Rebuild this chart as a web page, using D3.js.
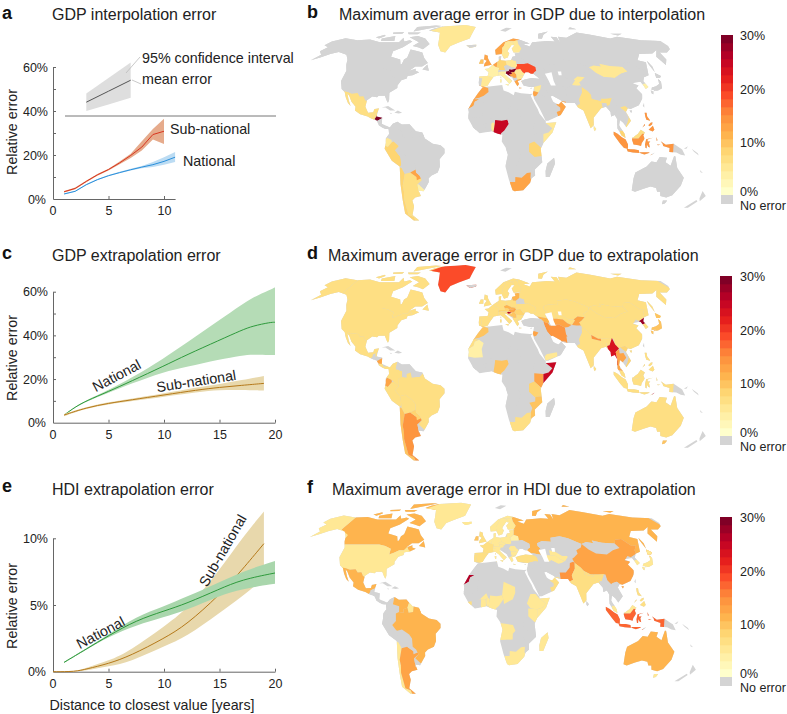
<!DOCTYPE html>
<html>
<head>
<meta charset="utf-8">
<script src="https://cdn.jsdelivr.net/npm/d3@7"></script>
<style>
  body { margin: 0; background: #fff; }
  text { font-family: "Liberation Sans", Arial, sans-serif; fill: #222; }
  .axis path, .axis line { stroke: #666; }
  .axis text { font-size: 12.5px; fill: #222; }
</style>
</head>
<body>
<div id="chart"></div>
<script>
const width = 787;
const height = 714;

// -------------------- line chart data (percent) --------------------
const aInsetX = [3, 5, 7];
const aInsetMean = [44, 49, 54];
const aInsetLow = [40, 43, 46];
const aInsetHigh = [48, 55, 62];

const aSubX = [1, 2, 3, 4, 5, 6, 7, 8, 9, 10];
const aSubMean = [3.3, 4.8, 8, 11, 13.4, 16.4, 19.8, 23.6, 29.3, 30.8];
const aSubLow = [3, 4.4, 7.6, 10.6, 13, 15.8, 18.6, 22, 27, 25];
const aSubHigh = [3.6, 5.2, 8.4, 11.4, 13.8, 17, 20.6, 26.2, 31.8, 36.5];

const aNatX = [1, 2, 3, 4, 5, 6, 7, 8, 9, 10, 11];
const aNatMean = [2.3, 3.5, 6.5, 8.8, 10.6, 12, 13.3, 14.5, 15.6, 17.1, 19];
const aNatLow = [2.1, 3.3, 6.2, 8.5, 10.3, 11.7, 12.9, 14, 14.5, 15.6, 16.8];
const aNatHigh = [2.5, 3.7, 6.8, 9.1, 10.9, 12.4, 13.7, 15, 16.8, 19, 21.4];

const cNatX = [1, 2, 3, 5, 7, 10, 12, 15, 17, 18, 19.6, 20];
const cNatMean = [3.5, 7.2, 10, 14.3, 18.9, 26, 31, 37.8, 42.4, 44.3, 46, 46];
const cNatLow = [3.4, 7, 9.7, 13.7, 17.8, 23.4, 25.5, 29, 30.8, 31.3, 31, 31];
const cNatHigh = [3.6, 7.4, 10.3, 15, 20.2, 29.5, 36.5, 47, 54, 57.4, 61, 62];

const cSubX = [1, 3, 5, 7, 10, 13, 15, 17, 19];
const cSubMean = [3.5, 6.9, 8.9, 10.4, 12.7, 15, 16.2, 17.1, 18];
const cSubLow = [3, 6.5, 8.4, 9.8, 11.9, 14, 15, 15, 14.7];
const cSubHigh = [4, 7.3, 9.4, 11, 13.4, 16.2, 17.7, 19.5, 21.4];

const eNatX = [1, 3, 5, 7.5, 10, 12, 15, 17, 20];
const eNatMean = [0.7, 1.7, 2.7, 3.85, 4.55, 5.1, 6.2, 6.9, 7.4];
const eNatLow = [0.65, 1.65, 2.62, 3.5, 4.1, 4.6, 5.7, 6.2, 6.6];
const eNatHigh = [0.75, 1.75, 2.8, 4.15, 4.9, 5.6, 6.7, 7.5, 8.3];

const eSubX = [0, 2, 3, 5, 7, 10, 12, 15, 17, 19];
const eSubMean = [0, 0, 0.2, 0.6, 1.2, 2.5, 3.5, 5.75, 7.6, 9.6];
const eSubLow = [0, 0, 0.1, 0.4, 0.75, 1.9, 2.6, 4.4, 5.6, 7];
const eSubHigh = [0, 0, 0.3, 0.8, 1.6, 3.4, 4.6, 7.6, 10, 12];

// -------------------- map values: percent, null = no error --------------------
const gdpInterp = {
  Greenland: 5, Mexico: 7, Guatemala: 7, Belize: 7, Honduras: 30, Ecuador: 5, Peru: 8, Chile: 8, Argentina: 7,
  Paraguay: 13, Uruguay: 3, Norway: 13, Sweden: 5, Finland: 5, UK: 13, Ireland: 9, Spain: 5, France: 4, Benelux: 12,
  Germany: 8, Poland: 5, Ukraine: 19, Hungary: 30, Croatia: 30, Dalmatia: 30, Serbia: 12, Romania: 5, Bulgaria: 5, Greece: 12,
  Italy: 4, Morocco: 13, WSahara: 13, Jordan: 13, Syria: 5, Oman: 12, Mongolia: 5, Kyrgyzstan: 5, SKorea: 4,
  India: 7, SriLanka: 5, Vietnam: 7, Philippines: 14, Indonesia: 14, Malaysia: 8, MalaysiaBorneo: 7, Nigeria: 24,
  Benin: 5, Somalia: 5, Tanzania: 8, SouthAfrica: 12
};
const gdpExtrap = {
  Greenland: 19, Canada: 7, Alaska: 7, USA: 7, Mexico: 7, Belize: 7, Nicaragua: 12, CostaRica: 7, Colombia: 7,
  Ecuador: 13, Peru: 7, Bolivia: 7, Chile: 9, Argentina: 14, Paraguay: 8, Brazil: 7, Norway: 7, Sweden: 7, Finland: 7,
  Denmark: 7, UK: 7, Ireland: 7, Portugal: 7, Spain: 7, France: 7, Benelux: 7, Germany: 7, Austria: 8, Italy: 7,
  Poland: 7, Czechia: 11, Slovakia: 11, Hungary: 12, Croatia: 26, Dalmatia: 7, Serbia: 9, Macedonia: 7, Greece: 7, Bulgaria: 7,
  Romania: 8, Ukraine: 7, Baltics: 11, Russia: 7, Kazakhstan: 7, Uzbekistan: 7, Turkmenistan: 12, Kyrgyzstan: 12,
  Caucasus: 11, Iran: 14, Jordan: 13, Yemen: 5, Mongolia: 7, China: 7, India: 7, Nepal: 14, Bangladesh: 7, SriLanka: 7,
  Myanmar: 23, Thailand: 13, Vietnam: 8, Malaysia: 7, MalaysiaBorneo: 7, Indonesia: 7, Timor: 25, Philippines: 7,
  Japan: 9, NKorea: 27, SKorea: 7, Australia: 7, Tasmania: 9, Morocco: 9, WSahara: 7, Mauritania: 4, Nigeria: 10,
  Somalia: 25, Kenya: 12, Tanzania: 8, Mozambique: 9, SouthAfrica: 7
};
const hdiExtrap = {
  Greenland: 5, Alaska: 5, Canada: 11, USA: 5, Mexico: 11, Venezuela: 11, Guyana: 5, Suriname: 11, Brazil: 11,
  Chile: 5, Argentina: 12, Norway: 5, Sweden: 5, Finland: 5, Denmark: 5, UK: 7, Ireland: 9, Iceland: 5, Portugal: 7,
  Spain: 7, France: 7, Benelux: 5, Germany: 5, Austria: 5, Italy: 5, Poland: 5, Czechia: 5, Belarus: 4, Greece: 5,
  Bulgaria: 5, Romania: 5, Russia: 11, Baltics: 5, Turkey: 7, Uzbekistan: 5, Turkmenistan: 5, Oman: 7, Pakistan: 14,
  China: 13, India: 7, Nepal: 7, Bangladesh: 7, Malaysia: 5, Indonesia: 17, MalaysiaBorneo: 5, Philippines: 7,
  Japan: 5, SKorea: 5, Australia: 11, Tasmania: 5, Madagascar: 5, WSahara: 26, SierraLeone: 7, Burkina: 5, Ghana: 5,
  Nigeria: 5, Chad: 5, Ethiopia: 5, Kenya: 5, Angola: 5, SouthAfrica: 5, Benin: 5, Somalia: 5
};

// colour bar labels
const barTicks = [0, 10, 20, 30];

// -------------------- geography: lon,lat outlines --------------------
const land = [
  // North and Central America
  [[-168,65.5],[-166,68.5],[-156.5,71.2],[-141,69.6],[-128,70],[-115,68],[-108,68],[-95,68],[-94,71.5],[-90,68.5],[-85,69.5],[-81.5,68.5],[-87,64],[-94,61],[-92.5,57],[-82.5,55],[-80,51.5],[-79,52],[-79,55],[-77,56.5],[-78,62.3],[-70,61],[-65,60],[-61,56],[-56,52.5],[-60,50],[-66,50],[-70,47],[-65,48.5],[-64.5,47],[-61,46],[-66,44],[-70,43.5],[-70,41.7],[-74,40.5],[-76,37],[-75.5,35.2],[-81,32],[-80,27],[-80.5,25.2],[-82,27],[-84,30],[-89,30],[-90,29],[-94,29.5],[-97.5,27],[-97.8,22.5],[-95,18.5],[-91,18.8],[-90.5,21],[-87,21.5],[-88,16],[-83.5,15],[-83.5,11],[-79.5,9.5],[-77.2,8.5],[-78,7.5],[-80.5,7.5],[-83,8.5],[-85.7,10],[-87.5,13],[-92,14.5],[-95,16],[-101,17.5],[-105.5,20],[-105.5,22.5],[-109.5,26],[-112.5,30],[-114.7,31.7],[-112,27],[-109.5,23],[-112,25],[-115,29],[-117.2,32.5],[-120.5,34.5],[-124,40],[-124.5,47],[-128,51],[-131,55],[-136,58.5],[-146,60.5],[-152,59],[-158,56.5],[-164,54.5],[-160,58.5],[-165,61],[-162,64]],
  // Arctic Canada
  [[-80,73],[-70,71],[-62,66.5],[-66,62.5],[-72,64],[-78,65],[-74,68],[-88,72]],
  [[-117,71],[-105,73],[-101,69],[-115,69]],
  [[-90,77],[-62,82.5],[-70,83],[-92,81.5]],
  [[-125,72],[-118,74],[-116,73],[-120,71]],
  [[-95,76],[-80,76],[-82,74.5],[-92,74.5]],
  [[-112,76],[-100,76.5],[-100,75],[-110,74.8]],
  [[-59,48],[-53,47],[-56,51.5]],
  // Caribbean
  [[-85,22],[-80,23],[-74,20],[-78,20],[-82,22]],
  [[-74.5,18.5],[-72,20],[-68.5,18.5],[-71,18]],
  [[-78.3,18.4],[-76.3,18.2],[-77,17.7]],
  // Greenland
  [[-73,78],[-68,80],[-60,82],[-32,83.6],[-18,81.5],[-20,76],[-22,71],[-32,68],[-40,65],[-43,60],[-48,61],[-53,66],[-55,71],[-58,76]],
  // South America
  [[-77.2,8.5],[-75,11],[-71.5,12.4],[-68,10.5],[-62,10.7],[-57,6],[-52,5],[-50,1],[-44,-2.5],[-38,-3.5],[-35,-6],[-35,-9],[-39,-13],[-39,-18],[-41,-22],[-46,-24],[-48.5,-26],[-48.7,-28.5],[-52,-32.5],[-54,-34.8],[-58,-34.3],[-57,-38],[-62,-39],[-65,-41],[-65,-45],[-69,-51],[-65,-55],[-70,-55],[-75,-50],[-73,-41],[-71.5,-30],[-70.3,-18],[-76,-14],[-81,-6],[-80,-2],[-80,1],[-77.5,4],[-78,7.5]],
  // Africa
  [[-6,35.8],[10,37.3],[11,33.5],[15,32.3],[19,30.3],[20,32.7],[25,31.7],[32,31.2],[34.3,31.3],[32.5,30],[35.5,24],[37.3,21],[38.5,18],[43.2,12.5],[43,11.5],[51.2,12],[48,5],[41,-2],[39,-6],[40.5,-15],[35,-20],[35.5,-24],[32.8,-26],[32,-29],[27,-34],[20,-34.8],[18.3,-34],[15,-27],[12,-18],[13.8,-10],[12,-5],[9,-1],[9.5,3.5],[6,4.3],[1,6],[-4.5,5],[-8,4.5],[-13,8.5],[-17,14.7],[-16.5,19],[-17,21],[-13,27.5],[-9.8,31.5]],
  [[49.5,-12],[50.5,-16],[47,-25],[44,-25],[43.5,-21],[44.5,-16]],
  // Eurasia
  [[-9,37],[-9.3,39],[-9,43],[-2,43.4],[-1.2,46],[-4.7,48.3],[-1.5,48.7],[1.5,50.5],[4,52],[8,54],[8.2,57],[10.5,57.5],[10,54.5],[14,54],[19,54.5],[21,57],[24,57.5],[23.5,59.3],[30,60],[22.5,60],[21.5,63],[25,65.5],[22,65.8],[17,61],[18.5,59.5],[16.5,56.5],[13,55.5],[11,59],[5.5,58.5],[5,62],[14,68],[25,71],[31,70],[41,67],[34,66.3],[40,64.5],[44,68],[54,68.5],[60,69],[68,68.5],[67,72.5],[73,72],[73,68],[75,72.5],[83,71.5],[100,76],[113,74],[130,71],[140,72.5],[160,69.5],[180,69],[180,65],[177,62.5],[170,60],[163,60],[162,55],[156.7,51],[155.5,57],[163,62],[155,59.3],[142,59],[135,54.5],[141,53],[135,44],[130,42.5],[127.5,39.8],[129.5,36],[126.5,34.5],[126,37],[125,39.5],[121,39],[118,38.5],[122,37],[119,35],[122,31],[121,28],[117,23.5],[110,21],[108,21.5],[106,19],[109,13],[105,8.6],[102.5,12],[100.5,13.5],[99.5,10],[103.5,4],[104,1.4],[101,3],[98,8],[98.5,14],[97,17],[94,16],[94,19],[91,22.5],[87,21.5],[80.3,15],[80,10],[77.5,8],[73,20],[69,22],[67,25],[61,25],[57,26],[56,27],[50,30],[48.5,29.5],[50,26],[51.5,25],[54,24],[56.3,26],[59.5,22.5],[55,17],[45,13],[43,13],[39,21],[35,28],[34.5,31.5],[36,36],[32,36],[27.5,37],[26,40],[29,41],[35,42],[41.5,41.5],[37,45],[35,45],[33,46],[30.5,46],[28,43],[26,40.8],[23,40],[24,38],[22.5,36.5],[19.5,41],[19,42],[14,45],[12.3,45],[18.5,40],[16,38],[12,42],[9,44],[3.2,43],[0,39.5],[-2,36.8],[-5.5,36]],
  // European islands
  [[-5.5,50],[1.5,51.2],[0,53],[-2,56],[-2,57.7],[-5,58.6],[-5.5,55],[-3,54],[-5,52]],
  [[-10,52],[-6,52],[-6,55],[-8.5,55]],
  [[-24,65.5],[-14,66],[-14,64.5],[-20,63.5]],
  [[12.5,38],[15.5,38],[15,36.7]],
  [[8.3,41],[9.7,41],[9.5,39],[8.5,39]],
  [[8.7,42.9],[9.5,42.9],[9.3,41.5]],
  [[32.5,35],[34.5,35.6],[33.5,34.6]],
  [[23.5,35.5],[26.2,35.2],[24,34.9]],
  // Arctic Russia
  [[52,71],[55,75],[68,77],[60,74],[56,70.8]],
  [[12,78],[20,80.5],[27,80],[18,76.7]],
  [[95,79],[105,79],[100,81]],
  [[137,75],[150,75],[143,73.5]],
  // East Asia
  [[142,46],[143.5,50],[143,54],[142,52]],
  [[130.9,34],[136,33.5],[140,35],[142,39.5],[141,41.3],[139.5,38],[136,36.5],[132,35.5]],
  [[140,42],[141.5,45.5],[145,43.5],[143,42]],
  [[130,33.5],[132,33],[131,31],[130,31.5]],
  [[132.5,34],[134.5,34],[133,33]],
  [[120,23],[121.5,25.2],[121,22]],
  [[109,20],[111,20],[110,18.3]],
  [[80,9.7],[81.8,7.5],[80.5,6],[79.8,7.5]],
  // Southeast Asia
  [[120.5,16],[120.5,18.5],[122,18.5],[122,16],[124,13],[121,13.7]],
  [[122,7],[125.5,9.7],[126.5,7],[125,5.7]],
  [[122,10],[124,11.7],[125.5,12],[125,10.5],[123,9.3]],
  [[117.3,8.4],[119.5,11],[119.5,10]],
  [[95,5.8],[98,4.2],[101,2],[104,0.5],[106,-3],[106,-6],[103,-5.5],[100,-2.5],[97,1],[95,3.5]],
  [[105,-6],[108,-6.2],[111,-6.2],[114.5,-7],[115,-8.8],[110,-8.5],[106,-7.8]],
  [[109,1.5],[110,1.7],[111.5,2.8],[113.5,4],[116,7],[119,5],[117.7,3],[118.8,1],[116.5,-2],[116,-4],[114,-3.5],[110.2,-3],[109,0]],
  [[119.8,0.5],[125,1.5],[120.8,0.3],[121,-1],[123,-1],[122,-2],[122.8,-5],[121.5,-4.5],[120.5,-3],[120.4,-5.6],[119.5,-5.5],[119,-3]],
  [[115,-8.3],[119,-8.3],[122,-8.3],[123,-8.6],[119,-9.8],[116,-9]],
  [[123.5,-10.3],[127,-8.4],[125,-10]],
  [[127.5,2],[128.5,0],[128,-0.8]],
  [[128,-3],[131,-3.2],[129,-3.5]],
  [[131,-0.8],[135,-3.3],[141,-2.6],[146,-5.5],[147.8,-6.5],[150.5,-10.5],[147,-10],[143.5,-8.5],[138,-8.2],[138,-5.5],[133,-4],[132.5,-2.5]],
  [[149,-6],[152,-4.3],[151,-6]],
  [[155,-6],[160,-9],[161,-10.5],[157,-8]],
  // Oceania
  [[114,-22],[113.5,-26],[115,-34.2],[118,-35],[124,-33],[129,-31.5],[134,-32.5],[136,-35],[138.5,-35],[140.5,-38],[146,-39],[150,-37.5],[153,-31],[153,-25.5],[146,-19],[143,-11],[142,-11],[140.5,-17.5],[136,-15],[136.7,-12],[131,-11.5],[129,-15],[125,-14.5],[122,-18]],
  [[144.7,-41],[148.3,-41],[148,-43],[146,-43.6]],
  [[172.7,-34.5],[178,-38],[176,-41.5],[174,-39.5]],
  [[172.5,-40.7],[174.3,-41.7],[170.5,-46],[167,-46]],
  [[164,-20.3],[167,-22.3],[165,-21.8]]
];

// inland seas painted back over the land
const waters = [
  [[47,45],[53,46],[53,40],[54,37],[50,37],[49,40]],
  [[58.5,46.5],[61.5,46.5],[61,44],[58.5,44]]
];

// only countries coloured on some map need an outline; the coast comes from the land clip
const countries = [
  ["Canada", [[[-141,72],[-141,60],[-130,55.5],[-130,49],[-95,49],[-89,48],[-83,46],[-82.5,42],[-79,43.2],[-75,45],[-71,45],[-69,47.3],[-67,45],[-60,40],[-50,45],[-50,60],[-60,62],[-60,70],[-60,83.5],[-90,84],[-130,78]]]],
  ["USA", [[[-130,49],[-95,49],[-89,48],[-83,46],[-82.5,42],[-79,43.2],[-75,45],[-71,45],[-69,47.3],[-67,45],[-60,43],[-70,30],[-79,25],[-80.5,24.8],[-82,24.8],[-88,28],[-96,25.9],[-99,27],[-101,29.7],[-104,29.5],[-106.5,31.8],[-111,31.3],[-114.8,32.5],[-117.1,32.5],[-125,30]]]],
  ["Alaska", [[[-172,72],[-141,72],[-141,60],[-130,56],[-130,54],[-150,50],[-175,50]]]],
  ["Greenland", [[[-72,77],[-62,81],[-58,82.5],[-10,85],[-10,58],[-60,58],[-62,70]]]],
  ["Mexico", [[[-118,33],[-114.8,32.5],[-111,31.3],[-106.5,31.8],[-104,29.5],[-101,29.7],[-99,27],[-96,25.9],[-94,20],[-86,22],[-88.2,18],[-89.1,17.9],[-91,17.2],[-91,16],[-92.2,14.5],[-95,12],[-110,18]]]],
  ["Guatemala", [[[-92.2,14.5],[-91,16],[-91,17.2],[-89.1,17.9],[-88.9,15.9],[-88.2,15.7],[-89.3,14.3],[-90,13],[-92.3,13]]]],
  ["Belize", [[[-89.1,17.9],[-88.2,18.5],[-87.5,16],[-88.9,15.9]]]],
  ["Honduras", [[[-89.3,14.3],[-88.2,15.7],[-88,16.5],[-83,16],[-83,15],[-85,14],[-87,13],[-88,13.2]]]],
  ["Nicaragua", [[[-87,13],[-85,14],[-83,15],[-83,10.9],[-85.7,11],[-87.7,12.5]]]],
  ["CostaRica", [[[-86,11],[-83,10.9],[-82,9],[-77,9.5],[-77,7],[-86,7.5]]]],
  ["Colombia", [[[-79,9],[-77.2,8.5],[-75,12],[-71.5,12.8],[-72,10],[-72.5,7.5],[-67.5,6],[-67.5,2],[-70,1],[-70,-4.2],[-74,-1],[-75.5,0],[-79,1.5],[-82,2]]]],
  ["Venezuela", [[[-72,10],[-71.5,12.8],[-62,11.5],[-59.8,8.5],[-61,5],[-64,4],[-64,1.5],[-67.5,2],[-67.5,6],[-72.5,7.5]]]],
  ["Guyana", [[[-59.8,8.5],[-56,7],[-56.5,2],[-60,1.5],[-61,5]]]],
  ["Suriname", [[[-56,7],[-50,6.5],[-50,2],[-56.5,2]]]],
  ["Ecuador", [[[-79,1.5],[-75.5,0],[-75.3,-1.5],[-78.5,-4.8],[-80.3,-4],[-82,-2]]]],
  ["Peru", [[[-82,-2],[-80.3,-4],[-78.5,-4.8],[-75.3,-1.5],[-74,-1],[-70,-4.2],[-73,-7],[-70.5,-10],[-69.5,-11],[-69,-13],[-69,-17],[-70.4,-18.4],[-75,-18],[-84,-6]]]],
  ["Bolivia", [[[-69.5,-11],[-65.5,-10],[-60,-13.5],[-58,-16.3],[-58,-20],[-62.5,-22],[-67,-23],[-69,-19],[-69,-17],[-69,-13]]]],
  ["Chile", [[[-70.4,-18.4],[-69,-19],[-67,-23],[-70,-31],[-70,-35],[-71.5,-40],[-72,-47],[-72.5,-51],[-68.5,-52.5],[-68.5,-55],[-65,-56.5],[-80,-56],[-75,-18]]]],
  ["Argentina", [[[-67,-23],[-62.5,-22],[-58,-25],[-54.5,-26],[-54,-27.2],[-58,-30],[-58,-34],[-50,-40],[-60,-56],[-68.5,-56],[-68.5,-52.5],[-72.5,-51],[-72,-47],[-71.5,-40],[-70,-35],[-70,-31]]]],
  ["Paraguay", [[[-62.5,-22],[-58,-20],[-58,-22],[-55.5,-24],[-54.5,-26],[-58,-27.2],[-58,-25]]]],
  ["Uruguay", [[[-58,-30],[-57,-30],[-53.3,-33.5],[-50,-36],[-58,-36],[-58,-34]]]],
  ["Brazil", [[[-70,-4.2],[-70,1],[-67.5,2],[-64,1.5],[-64,4],[-61,5],[-60,1.5],[-56.5,2],[-54,2],[-51.5,4.5],[-45,3],[-30,-5],[-30,-15],[-50,-36],[-53.3,-33.5],[-57,-30],[-54,-27.2],[-54.5,-26],[-55.5,-24],[-58,-22],[-58,-16.3],[-60,-13.5],[-65.5,-10],[-69.5,-11],[-70.5,-10],[-73,-7]]]],
  ["Iceland", [[[-26,62],[-12,62],[-12,67.5],[-26,67.5]]]],
  ["Russia", [[[28,59.5],[27,56],[31,55],[31,52],[34,52.3],[40,49.6],[40,47],[38,46],[36,44.5],[40,43],[48,41.8],[47,45],[49,46.3],[47,48],[47,50],[52,51.5],[60,51],[61,54],[70,55],[77,53.5],[83,51],[87,49.5],[92,50.8],[98,50],[98,52],[106,50.3],[113,50],[117,49.7],[120,52.5],[126,53],[131,48],[135,48.3],[131,45],[130.5,42.5],[135,40],[150,40],[180,60],[180,80],[60,84],[35,82],[28,72],[31,70],[29,69.5],[29,66.5],[31,63],[28,60]]]],
  ["Norway", [[[4,58],[7,57.5],[11,58.5],[12,61],[12,63.5],[14,65],[16,68],[20,69],[25,68.8],[29,69.5],[31,70],[32,72],[15,72],[2,62]]]],
  ["Sweden", [[[11,58.5],[12.5,55],[16,55],[20,58],[18,60.5],[18,62.5],[24,65.5],[24,67.5],[20,69],[16,68],[14,65],[12,63.5],[12,61]]]],
  ["Finland", [[[21,60],[25,59.5],[28,60],[31,63],[29,66.5],[29,69.5],[25,68.8],[20.5,69],[24,67.5],[24,65.5],[20,63]]]],
  ["Denmark", [[[8,54.9],[12,54.7],[13,56],[11,58],[7,58]]]],
  ["UK", [[[-6,49.5],[2,50.5],[2,54],[-1,59],[-7,59],[-6,54],[-6,52]]]],
  ["Ireland", [[[-11,51],[-6,51.5],[-5.9,55.5],[-9,56]]]],
  ["Portugal", [[[-10,36.5],[-7.4,37],[-7,39.5],[-6.5,41.8],[-9,42.1],[-10,42]]]],
  ["Spain", [[[-7.4,36],[-5,35.9],[-1,36.3],[0,38],[4,40],[3.3,42.4],[-1.8,43.4],[-2,44],[-10,44],[-9,42.1],[-6.5,41.8],[-7,39.5],[-7.4,37]]]],
  ["France", [[[-1.8,43.4],[3.3,42.4],[7.5,43.5],[7,46],[8,49],[4.5,50],[2.5,51.3],[0,50.5],[-6,48.5],[-3,46]]]],
  ["Benelux", [[[2.5,51.3],[4.5,50],[6,49.5],[6.2,51],[7,53.5],[4,53.5]]]],
  ["Germany", [[[6,49.5],[8,49],[7.6,47.6],[13,47.5],[13,48.8],[12.3,50.2],[15,51],[14.3,53.9],[14.2,55],[8,55],[7,53.5],[6.2,51]]]],
  ["Austria", [[[7,46],[10,46.5],[13,46.6],[16.3,46.9],[17,48.1],[15,49],[13,48.8],[13,47.5],[7.6,47.6]]]],
  ["Italy", [[[7,46],[7.5,43.5],[6,43],[8,38],[14,35],[19,39],[18.8,40],[15,43],[13.5,45],[13.7,46.5],[13,46.6],[10,46.5]]]],
  ["Poland", [[[14.3,53.9],[15,51],[19,49.5],[22.8,49],[24,50.5],[23.5,54],[19,55],[14.2,55]]]],
  ["Czechia", [[[12.3,50.2],[13,48.8],[15,49],[17,48.1],[19,49.5],[15,51]]]],
  ["Slovakia", [[[17,48.1],[18.7,47.8],[22.2,48.4],[22.8,49],[19,49.5]]]],
  ["Hungary", [[[16.3,46.9],[18,45.8],[21,46.2],[22.8,48],[22.2,48.4],[18.7,47.8],[17,48.1]]]],
  ["Serbia", [[[18,45.8],[21,46.2],[22.5,44.2],[22.5,42.3],[20,42],[19,43],[18,43],[16,44.5],[19,45]]]],
  ["Dalmatia", [[[13.6,45],[14,46.5],[16.3,46.9],[18,45.8],[19,45],[16,44.5],[18,43],[15,43.5]]]],
  ["Croatia", [[[14.5,45.6],[16,46.3],[18.5,45.6],[16,44.9]]]],
  ["Macedonia", [[[18,42.3],[20,42],[22.5,42.3],[23,41],[20,39.5],[18,40]]]],
  ["Greece", [[[20,39.5],[23,41],[26.3,41.5],[26.3,40.6],[26,37],[27,34],[23,34.5],[19,36],[19,39]]]],
  ["Bulgaria", [[[22.5,42.3],[22.5,44.2],[28,43.8],[29,43],[28,42],[26.3,41.5],[23,41]]]],
  ["Romania", [[[21,46.2],[22.8,48],[26.5,48.2],[28.2,46],[29.8,45.2],[29,43.8],[22.5,44.2]]]],
  ["Ukraine", [[[22.2,48.4],[24,50.5],[24,51.7],[31,52],[34,52.3],[40,49.6],[40,47],[38,46],[36,44],[32,45],[30,45.5],[29.8,45.2],[28.2,46],[26.5,48.2],[22.8,48]]]],
  ["Belarus", [[[24,51.7],[23.5,54],[27,56],[31,55],[31,52]]]],
  ["Baltics", [[[21,54.2],[23.5,54],[27,56],[28,59.5],[23,60],[20,57]]]],
  ["Kazakhstan", [[[47,45],[49,46.3],[47,48],[47,50],[52,51.5],[60,51],[61,54],[70,55],[77,53.5],[83,51],[87,49.5],[85,47],[80,45],[80,42.5],[74,43],[70,41],[66,41],[61,44],[56,45],[56,41.5],[52,41.5],[50,44]]]],
  ["Uzbekistan", [[[56,45],[61,44],[66,41],[70,41],[71,40.5],[67.5,37.3],[64,38.5],[61,41],[56,41.5]]]],
  ["Turkmenistan", [[[52,41.5],[56,41.5],[61,41],[64,38.5],[67,37.3],[64,36],[61,35.5],[56,38],[53.5,37],[52,38]]]],
  ["Kyrgyzstan", [[[70,41],[74,43],[80,42.5],[76,40],[74,39],[75,37],[71,37],[67.5,37.3],[71,40.5]]]],
  ["Caucasus", [[[40,43],[48,41.8],[50,40],[48,38.5],[44.5,39.5],[43,41],[41.5,41.5]]]],
  ["Turkey", [[[26.3,40.6],[26,37],[36,36],[42,37.2],[44.8,37],[44.5,39.5],[43,41],[41.5,41.5],[35,42.5],[29,41.8],[28,42],[26.3,41.5]]]],
  ["Iran", [[[44.5,39.5],[48,38.5],[49,37],[54,36.8],[56,38],[61,35.5],[61,31],[63,27],[61.6,25],[56,26],[50,29.5],[48.5,30],[46,33],[44.8,37]]]],
  ["Iraq", [[[42,37.2],[44.8,37],[46,33],[48.5,30],[47,29],[44,29],[39,32.2],[41,34.5]]]],
  ["Syria", [[[36,36],[42,37.2],[41,34.5],[39,32.2],[36,33]]]],
  ["Jordan", [[[34,31],[35,33.2],[36,33],[39,32.2],[37,30],[35,29.4]]]],
  ["Yemen", [[[43,13],[52,16],[53,19],[44,17.5],[42.5,16]]]],
  ["Oman", [[[52,24],[55,22],[55,20],[52,19],[53,16],[60,16],[60,26],[56,26.5],[54,24.5]]]],
  ["Pakistan", [[[61,25],[61,29.5],[66,29.5],[70,33],[71,36],[74,37],[75,36],[74,32],[70.5,27.5],[71,24.5],[68,23],[62,24]]]],
  ["Mongolia", [[[87,49.5],[92,50.8],[98,50],[98,52],[106,50.3],[113,50],[117,49.7],[119,46.5],[112,45],[105,42],[96,42.7],[91,45.5]]]],
  ["China", [[[74,39],[76,40],[80,42.5],[80,45],[85,47],[87,49.5],[91,45.5],[96,42.7],[105,42],[112,45],[119,46.5],[117,49.7],[120,52.5],[126,53],[131,48],[135,48.3],[131,45],[130.5,42.5],[128,41.5],[124.3,40],[122,41],[118,38],[123,37],[122,30],[118,23],[112,20],[111,17.5],[108.5,17.5],[108,21.5],[106,23],[102,22],[101,21.3],[98.5,24],[98,28],[92,28],[86,28],[81,30.5],[79,33],[75,36]]]],
  ["India", [[[68,23],[71,24.5],[70.5,27.5],[74,32],[75,36],[79,33],[81,30.5],[81,28],[88,26.5],[88,28],[92,28],[97,28.5],[94,23.5],[92,23],[91.5,25],[88,25],[89,21],[80.2,10],[78,7],[76,7],[68,20]]]],
  ["Nepal", [[[81,30.5],[86,28],[88,28],[88,26.5],[81,28]]]],
  ["Bangladesh", [[[88,25],[91.5,25],[92,23],[92.5,20],[88.5,20.5]]]],
  ["SriLanka", [[[79,10],[82.5,8],[81,5],[79,7]]]],
  ["Myanmar", [[[92,23],[94,23.5],[97,28.5],[98.5,24],[101,21.3],[98,19],[98.5,14],[99.5,10],[96,10],[92.5,20]]]],
  ["Thailand", [[[98,19],[101,21],[101,18],[104,18.3],[105.6,15],[102.5,12],[102.3,11],[100.5,12],[100,8],[103,6],[100,6.5],[98,7],[98.5,14]]]],
  ["Vietnam", [[[102,22],[106,23],[108,21.5],[106.5,19],[110,15],[109.5,11],[106,8],[104,8.5],[106,11.5],[107.5,15],[106,19]]]],
  ["Malaysia", [[[100,6.5],[103,6],[105,2],[104,0.8],[100,3]]]],
  ["MalaysiaBorneo", [[[109,1],[114,1],[117,4.3],[120,4],[120,8],[112,8],[109,3]]]],
  ["Indonesia", [
    [[94,6],[98,5],[102,1.6],[104.5,0.3],[107,-2],[107,-6],[104,-7],[98,-2],[94,3]],
    [[105,-6],[115,-6.5],[120,-7.5],[128,-7.5],[125,-9],[124,-11.5],[116,-10],[105,-9.5]],
    [[108,-5],[108,1],[109,1],[114,1],[117,4.3],[118.5,4],[118.5,-5]],
    [[118.5,-6],[118.5,-2],[120,2],[126,2],[124,-7]],
    [[127,3],[129.5,1],[132,-3.5],[128,-4.5],[126,0]],
    [[130.5,0],[141,-2],[141,-9.5],[137,-9],[132,-4.5]]
  ]],
  ["Timor", [[[124.5,-9.2],[127.5,-8],[125.5,-10]]]],
  ["Philippines", [[[116.5,8],[120,4.5],[127,5],[127,10],[123.5,19.5],[119.5,19]]]],
  ["Japan", [[[129,30],[133,30],[143,36],[146,42],[146,46],[140,46],[138,38],[130,35]]]],
  ["NKorea", [[[124.3,40],[128,41.5],[130.5,42.5],[132,41],[128.5,38.5],[125.5,37.7],[124,38]]]],
  ["SKorea", [[[125.5,37.7],[128.5,38.5],[131,36],[128,33.5],[125,34]]]],
  ["Australia", [[[112,-20],[125,-12],[130,-10],[137,-11],[142,-9.8],[147,-15],[155,-25],[155,-39],[148,-39.5],[143,-39.5],[115,-37]]]],
  ["Tasmania", [[[143,-39.8],[150,-39.8],[150,-45],[143,-45]]]],
  ["Madagascar", [[[42,-26],[48,-27],[52,-15],[49,-11],[43,-15]]]],
  ["Morocco", [[[-6,36.5],[-1.5,35.2],[-1.2,32.5],[-5,30],[-8.7,28.7],[-12,28],[-12,27],[-20,27],[-15,34],[-10,37]]]],
  ["WSahara", [[[-20,27.7],[-8.7,27.7],[-12,26],[-13,23],[-17,21],[-22,21]]]],
  ["Mauritania", [[[-17,21],[-13,23],[-12,26],[-8.7,27.2],[-5,25],[-6.5,21],[-5.5,15.5],[-12,15],[-17,16],[-20,16],[-20,21]]]],
  ["SierraLeone", [[[-14,9],[-10.5,9.5],[-10.5,7],[-12,6]]]],
  ["Burkina", [[[-5.5,10.5],[-4,11],[1,15],[2.5,12],[0.5,11],[-3,11]]]],
  ["Ghana", [[[-3,11],[0.5,11],[1,6],[-3,4],[-3.3,7]]]],
  ["Benin", [[[1,11],[2.5,12],[3.7,11],[2.8,6],[1.6,6],[1,8]]]],
  ["Nigeria", [[[2.8,6],[3.7,11],[4,13.5],[9,13],[13.5,13.7],[14.5,11],[11,6.5],[8.5,4.5],[8.5,2],[3,2]]]],
  ["Chad", [[[13.5,13.7],[15,23],[24,19.5],[24,15.5],[22,11],[15,7.7],[14.5,11]]]],
  ["Ethiopia", [[[33,8],[36,14.5],[40,14.5],[43,11.5],[48,8],[45,5],[41,4],[36,4.5]]]],
  ["Kenya", [[[34,4.5],[41,4],[41,-2],[42,-4],[39,-5],[34,-1]]]],
  ["Somalia", [[[41,4],[45,5],[48,8],[43,11.5],[52,12.5],[52,8],[45,-3],[41,-2]]]],
  ["Tanzania", [[[34,-1],[39,-5],[42,-5],[42,-10.5],[40,-11],[34.5,-11.5],[30,-8],[30,-2.5]]]],
  ["Mozambique", [[[35,-11.5],[40,-11],[42,-15],[36,-24],[33,-27],[32,-26],[32,-22],[33,-19],[30.5,-15.5],[35,-14.5]]]],
  ["SouthAfrica", [[[16,-28.5],[20,-28.5],[20,-25],[25,-25.5],[29,-22.3],[32,-22],[32,-26],[33,-27],[34,-30],[25,-38],[16,-36]]]],
  ["Angola", [[[11,-6],[13,-5.8],[16,-6],[22,-7],[24,-11],[22,-13],[22,-17],[12,-17.3],[10,-17]]]]
];

// -------------------- Robinson projection --------------------
const robLat = d3.range(0, 95, 5);
const robLen = [1, .9986, .9954, .99, .9822, .973, .96, .9427, .9216, .8962, .8679, .835, .7986, .7597, .7186, .6732, .6213, .5722, .5322];
const robDfe = [0, .062, .124, .186, .248, .31, .372, .434, .4958, .5571, .6176, .6769, .7346, .7903, .8435, .8936, .9394, .9761, 1];
const lenScale = d3.scaleLinear().domain(robLat).range(robLen);
const dfeScale = d3.scaleLinear().domain(robLat).range(robDfe);

function robinsonRaw(lambda, phi) {
  const a = Math.abs(phi) * 180 / Math.PI;
  return [0.8487 * lambda * lenScale(a), 1.3523 * dfeScale(a) * Math.sign(phi)];
}

// -------------------- colours --------------------
const grey = "#d4d4d4";
const ramp = d3.piecewise(d3.interpolateRgb, d3.schemeYlOrRd[9]);
const stepColors = d3.range(20).map(i => ramp(i / 19));
const colorScale = d3.scaleQuantize().domain([0, 30]).range(stepColors);

const svg = d3.select("#chart").append("svg")
  .attr("width", width)
  .attr("height", height)
  .style("display", "block");

const lineNat = "#2e9a3c", bandNat = "#b5dcb6";
const lineSub = "#b5791a", bandSub = "#e8d8ac";

// -------------------- line charts --------------------
function linePanel(o) {
  const x = d3.scaleLinear().domain([0, o.xMax]).range([53, 53 + o.xMax * 11.1]);
  const y = d3.scaleLinear().domain([0, o.yMax]).range([o.y0, o.yTop]);

  svg.append("g")
    .attr("class", "axis")
    .attr("transform", `translate(53,0)`)
    .call(d3.axisLeft(y).tickValues(o.yTicks).tickSize(-3).tickSizeOuter(0).tickPadding(5)
      .tickFormat(d => o.yLabels.includes(d) ? d + "%" : ""));

  svg.append("g")
    .attr("class", "axis")
    .attr("transform", `translate(0,${o.y0})`)
    .call(d3.axisBottom(x).tickValues(o.xTicks).tickSize(-3).tickSizeOuter(0).tickPadding(7));

  svg.append("text")
    .attr("transform", `translate(17,${o.yLabelAt}) rotate(-90)`)
    .attr("text-anchor", "middle")
    .style("font-size", "14.3px")
    .text("Relative error");

  return { x, y };
}

function series(scales, xs, mean, low, high, lineColor, bandColor, curve) {
  const pts = xs.map((d, i) => i);
  const area = d3.area().curve(curve)
    .x(i => scales.x(xs[i]))
    .y0(i => scales.y(low[i]))
    .y1(i => scales.y(high[i]));
  const line = d3.line().curve(curve)
    .x(i => scales.x(xs[i]))
    .y(i => scales.y(mean[i]));
  svg.append("path").attr("d", area(pts)).attr("fill", bandColor);
  svg.append("path").attr("d", line(pts)).attr("fill", "none").attr("stroke", lineColor).attr("stroke-width", 1);
}

function heading(letter, lx, ly, title, tx, ty) {
  svg.append("text").attr("x", lx).attr("y", ly)
    .style("font-size", "18px").style("font-weight", "bold").style("fill", "#111").text(letter);
  svg.append("text").attr("x", tx).attr("y", ty)
    .style("font-size", "16px").text(title);
}

function label(x, y, rot, txt) {
  svg.append("text")
    .attr("transform", `translate(${x},${y}) rotate(${rot})`)
    .attr("text-anchor", "middle")
    .style("font-size", "14.3px")
    .text(txt);
}

// panel a
heading("a", 2, 19, "GDP interpolation error", 52, 20);
const a = linePanel({
  xMax: 11, yMax: 60, y0: 199, yTop: 67, xTicks: [5, 10],
  yTicks: [10, 20, 30, 40, 50, 60], yLabels: [20, 40, 60], yLabelAt: 132
});
series(a, aInsetX, aInsetMean, aInsetLow, aInsetHigh, "#555", "#dedede", d3.curveLinear);
series(a, aSubX, aSubMean, aSubLow, aSubHigh, "#d8351f", "#e6ab8c", d3.curveLinear);
series(a, aNatX, aNatMean, aNatLow, aNatHigh, "#2a8fdb", "#bcdcf3", d3.curveLinear);
svg.append("line").attr("x1", 65).attr("x2", 276).attr("y1", 116).attr("y2", 116)
  .attr("stroke", "#777").attr("stroke-width", 1);
svg.append("line").attr("x1", 126).attr("x2", 140).attr("y1", 73).attr("y2", 57)
  .attr("stroke", "#bbb").attr("stroke-width", 0.8);
svg.append("line").attr("x1", 132).attr("x2", 141).attr("y1", 80).attr("y2", 84)
  .attr("stroke", "#bbb").attr("stroke-width", 0.8);
svg.append("text").attr("x", 142).attr("y", 63).style("font-size", "14.3px").text("95% confidence interval");
svg.append("text").attr("x", 142).attr("y", 84).style("font-size", "14.3px").text("mean error");
svg.append("text").attr("x", 170).attr("y", 134).style("font-size", "14.3px").text("Sub-national");
svg.append("text").attr("x", 183).attr("y", 166).style("font-size", "14.3px").text("National");

// panel c
heading("c", 2, 259, "GDP extrapolation error", 52, 261);
const c = linePanel({
  xMax: 20, yMax: 60, y0: 422.7, yTop: 291.7, xTicks: [5, 10, 15, 20],
  yTicks: [10, 20, 30, 40, 50, 60], yLabels: [20, 40, 60], yLabelAt: 358
});
series(c, cNatX, cNatMean, cNatLow, cNatHigh, lineNat, bandNat, d3.curveBasis);
series(c, cSubX, cSubMean, cSubLow, cSubHigh, lineSub, bandSub, d3.curveBasis);
label(119, 380, -28, "National");
label(197, 386, -9, "Sub-national");

// panel e
heading("e", 2, 492, "HDI extrapolation error", 52, 495);
const e = linePanel({
  xMax: 20, yMax: 10, y0: 671.7, yTop: 538.3, xTicks: [5, 10, 15, 20],
  yTicks: [5, 10], yLabels: [5, 10], yLabelAt: 606
});
series(e, eSubX, eSubMean, eSubLow, eSubHigh, lineSub, bandSub, d3.curveBasis);
series(e, eNatX, eNatMean, eNatLow, eNatHigh, lineNat, "#a9d6ac", d3.curveBasis);
label(103, 637, -28, "National");
label(227, 553, -60, "Sub-national");
svg.append("text").attr("x", 152).attr("y", 710).attr("text-anchor", "middle")
  .style("font-size", "14.3px").text("Distance to closest value [years]");

// zero labels sit at the origin on all three axes
[[199, "0%"], [422.7, "0%"], [671.7, "0%"]].forEach(d => {
  svg.append("text").attr("x", 46).attr("y", d[0] + 4.5).attr("text-anchor", "end")
    .style("font-size", "12.5px").text(d[1]);
  svg.append("text").attr("x", 53).attr("y", d[0] + 16).attr("text-anchor", "middle")
    .style("font-size", "12.5px").text("0");
});

// -------------------- maps --------------------
function mapPanel(id, values, r, x0, y0, bar) {
  const projection = d3.geoProjection(robinsonRaw).scale(r).translate([x0, y0]);
  const ringPath = d3.line().x(d => d[0]).y(d => d[1]);
  const toPath = rings => rings.map(ring => ringPath(ring.map(projection)) + "Z").join("");

  svg.append("clipPath").attr("id", "land-" + id)
    .append("path").attr("d", toPath(land));

  svg.append("path").attr("d", toPath(land)).attr("fill", grey);

  svg.append("g").attr("clip-path", `url(#land-${id})`)
    .selectAll("path")
    .data(countries)
    .join("path")
    .attr("d", d => toPath(d[1]))
    .attr("fill", d => values[d[0]] == null ? grey : colorScale(Math.min(values[d[0]], 29.9)));

  svg.append("path").attr("d", toPath(waters)).attr("fill", "#fff");

  // colour bar
  const by = d3.scaleLinear().domain([0, 30]).range([bar.y0, bar.y0 - 160]);
  const step = 30 / stepColors.length;
  svg.append("g").selectAll("rect")
    .data(stepColors)
    .join("rect")
    .attr("x", bar.x)
    .attr("width", 12)
    .attr("y", (d, i) => by((i + 1) * step))
    .attr("height", (d, i) => by(i * step) - by((i + 1) * step) + 0.3)
    .attr("fill", d => d);
  svg.append("rect").attr("x", bar.x).attr("y", bar.y0).attr("width", 12).attr("height", 9).attr("fill", grey);

  svg.append("g").selectAll("text")
    .data(barTicks)
    .join("text")
    .attr("x", 740)
    .attr("y", d => d === 0 ? bar.y0 + 0.5 : by(d) + (d === 30 ? 4.5 : 5.5))
    .style("font-size", "12.5px")
    .text(d => d + "%");
  svg.append("text").attr("x", 740).attr("y", bar.y0 + 15)
    .style("font-size", "12.5px").text("No error");
}

heading("b", 307, 18, "Maximum average error in GDP due to interpolation", 339, 20);
mapPanel("b", gdpInterp, 88, 490, 140, { x: 721, y0: 195 });

heading("d", 307, 259, "Maximum average error in GDP due to extrapolation", 328, 261);
mapPanel("d", gdpExtrap, 88, 490, 380, { x: 720, y0: 436 });

heading("f", 307, 493, "Maximum average error in HDI due to extrapolation", 332, 495);
mapPanel("f", hdiExtrap, 86, 485, 615, { x: 720, y0: 677 });
</script>
</body>
</html>
